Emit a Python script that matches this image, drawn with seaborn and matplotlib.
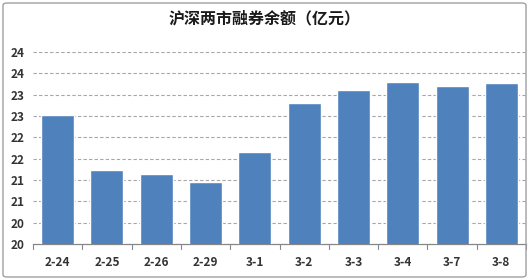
import matplotlib
matplotlib.use("Agg")
import matplotlib.pyplot as plt
import seaborn as sns
import pandas as pd
from matplotlib.patches import FancyBboxPatch

categories = ["2-24", "2-25", "2-26", "2-29", "3-1", "3-2", "3-3", "3-4", "3-7", "3-8"]
values = [23.03, 21.74, 21.65, 21.45, 22.16, 23.31, 23.61, 23.80, 23.70, 23.78]
ytick_values = [20, 20.5, 21, 21.5, 22, 22.5, 23, 23.5, 24, 24.5]
ytick_labels = ["20", "20", "21", "21", "22", "22", "23", "23", "24", "24"]
title = "沪深两市融券余额（亿元）"

sns.set_theme(style="white")
plt.rcParams['font.family'] = ['Noto Sans CJK SC', 'DejaVu Sans']

df = pd.DataFrame({"date": categories, "value": values})

fig = plt.figure(figsize=(5.29, 2.80), dpi=100)
ax = fig.add_axes([33/529, 1-244/280, (526-33)/529, (244-52)/280])

sns.barplot(data=df, x="date", y="value", color="#4f81bd", width=0.67,
            saturation=1, ax=ax, zorder=3)

ax.set_ylim(20, 24.5)
ax.set_xlim(-0.5, len(categories)-0.5)
ax.set_yticks(ytick_values)
ax.set_yticklabels(ytick_labels)
ax.set_xlabel("")
ax.set_ylabel("")

for v in ytick_values[1:]:
    ax.axhline(v, color="#a6a6a6", lw=0.8, ls=(0, (3, 2)), zorder=1)

for s in ["top", "right", "left"]:
    ax.spines[s].set_visible(False)
ax.spines["bottom"].set_color("#868686")
ax.spines["bottom"].set_linewidth(0.9)

ax.tick_params(axis="y", length=0, pad=6, labelsize=8.5, labelcolor="#333333")
ax.tick_params(axis="x", length=0, pad=9, labelsize=8.5, labelcolor="#333333")
for lab in ax.get_xticklabels() + ax.get_yticklabels():
    lab.set_fontweight("bold")

# category boundary tick marks on x axis
for b in range(len(categories)+1):
    ax.plot([b-0.5, b-0.5], [0, -0.025], transform=ax.get_xaxis_transform(),
            color="#868686", lw=0.8, clip_on=False)

fig.text(0.5, 1-18/280, title, ha="center", va="center", fontsize=11.5,
         fontweight="bold", color="#1a1a1a")

border = FancyBboxPatch((3/529, 3/280), 523/529, 274/280,
                        boxstyle="round,pad=0,rounding_size=0.008",
                        transform=fig.transFigure, fill=False,
                        edgecolor="#a0a0a0", lw=1.0)
fig.patches.append(border)

fig.savefig("out.png", dpi=100)
